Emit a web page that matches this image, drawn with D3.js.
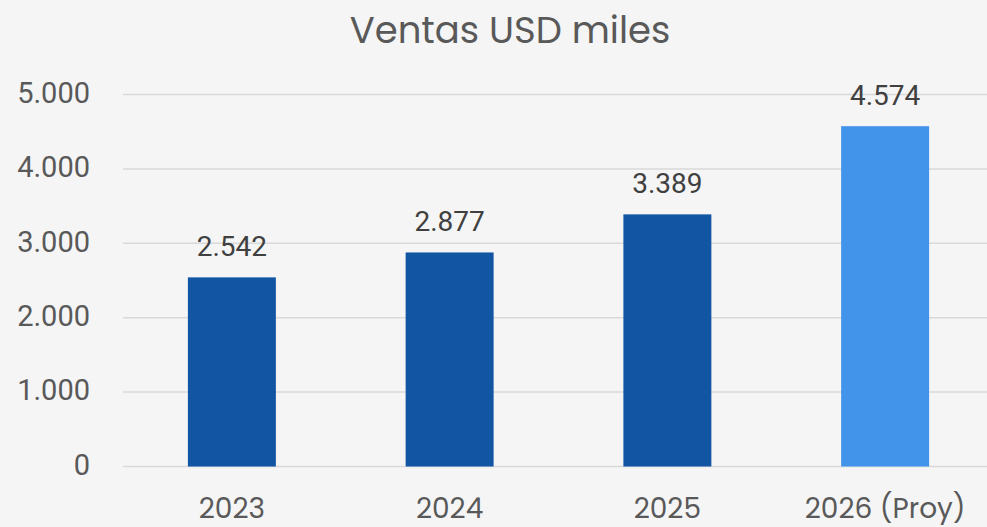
<!DOCTYPE html>
<html>
<head>
<meta charset="utf-8">
<script src="https://cdn.jsdelivr.net/npm/d3@7"></script>
<style>
  html, body { margin: 0; padding: 0; background: #f5f5f5; }
  svg { display: block; font-family: Poppins, "Noto Sans", sans-serif; }
</style>
</head>
<body>
<div id="chart"></div>
<script>
// data
const categories = ['2023', '2024', '2025', '2026 (Proy)'];
const ventas = [2542, 2877, 3389, 4574];
const projected = [false, false, false, true];
const yTicks = [0, 1000, 2000, 3000, 4000, 5000];

const width = 987, height = 527;
const fmt = v => d3.format(',')(v).replace(/,/g, '.');
const numFont = 'Roboto, "Liberation Sans", sans-serif';

const svg = d3.select('#chart').append('svg')
  .attr('width', width)
  .attr('height', height);

svg.append('rect')
  .attr('width', width)
  .attr('height', height)
  .attr('fill', '#f5f5f5');

const x = d3.scaleBand()
  .domain(categories)
  .range([123, 994])
  .paddingInner(0.596)
  .paddingOuter(0.298);

const y = d3.scaleLinear()
  .domain([0, 5000])
  .range([466.5, 94.5]);

// title
svg.append('text')
  .attr('x', 510)
  .attr('y', 43)
  .attr('text-anchor', 'middle')
  .attr('fill', '#595959')
  .style('font-size', '37px')
  .text('Ventas USD miles');

// gridlines
svg.append('g')
  .selectAll('line')
  .data(yTicks)
  .enter()
  .append('line')
  .attr('x1', 123)
  .attr('x2', width)
  .attr('y1', d => y(d))
  .attr('y2', d => y(d))
  .attr('stroke', '#d9d9d9')
  .attr('stroke-width', 1.5);

// y axis labels
const yAxis = svg.append('g')
  .attr('transform', 'translate(90,0)')
  .call(d3.axisLeft(y).tickValues(yTicks).tickFormat(fmt).tickSize(0).tickPadding(0));
yAxis.select('.domain').remove();
yAxis.selectAll('text')
  .attr('fill', '#595959')
  .attr('dy', '0.27em')
  .style('font-size', '29px')
  .style('font-family', numFont);

// x axis labels
const xAxis = svg.append('g')
  .attr('transform', 'translate(0,466.5)')
  .call(d3.axisBottom(x).tickSize(0));
xAxis.select('.domain').remove();
xAxis.selectAll('text')
  .attr('dy', null)
  .attr('y', 51.5)
  .attr('fill', '#595959')
  .style('font-size', '28px')
  .style('font-family', 'Poppins, "Noto Sans", sans-serif');

// bars
svg.selectAll('.bar')
  .data(categories)
  .enter()
  .append('rect')
  .attr('class', 'bar')
  .attr('x', d => x(d))
  .attr('width', x.bandwidth())
  .attr('y', (d, i) => y(ventas[i]))
  .attr('height', (d, i) => y(0) - y(ventas[i]))
  .attr('fill', (d, i) => projected[i] ? '#4293ea' : '#1155a3');

// value labels
svg.selectAll('.label')
  .data(categories)
  .enter()
  .append('text')
  .attr('class', 'label')
  .attr('x', d => x(d) + x.bandwidth() / 2)
  .attr('y', (d, i) => y(ventas[i]) - 21)
  .attr('text-anchor', 'middle')
  .attr('fill', '#404040')
  .style('font-size', '28px')
  .style('font-family', numFont)
  .text((d, i) => fmt(ventas[i]));
</script>
</body>
</html>
